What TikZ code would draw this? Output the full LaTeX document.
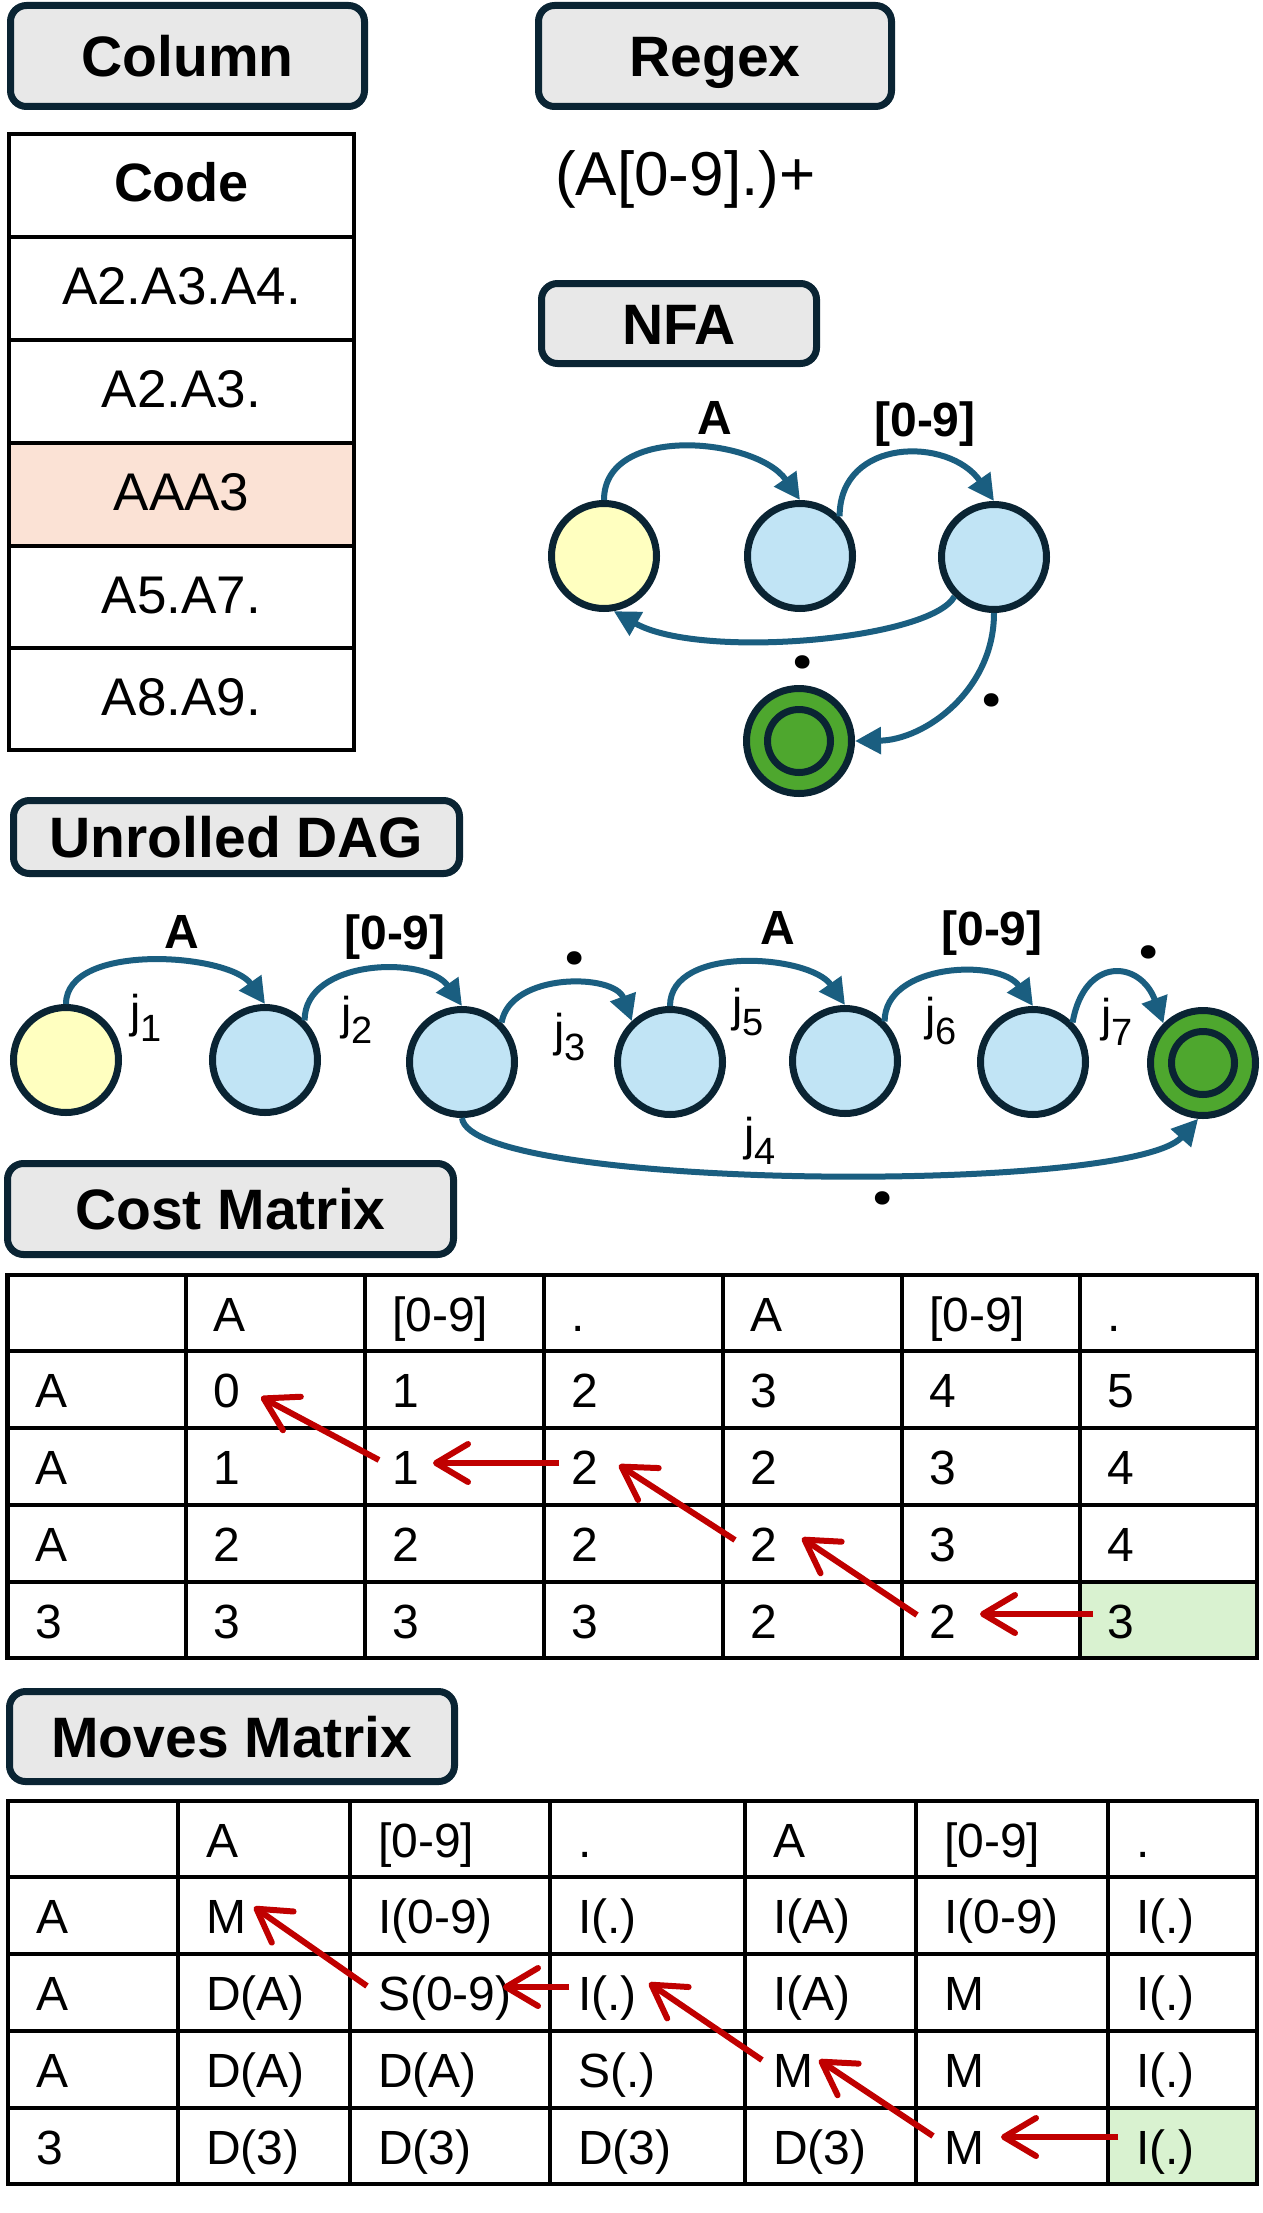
\documentclass[tikz,border=0pt]{standalone}
\usepackage{fontspec}
\setmainfont{Liberation Sans}
\newfontfamily\dotfont{Poppins}
\usetikzlibrary{arrows.meta}
\definecolor{navy}{HTML}{0A2433}
\definecolor{edgec}{HTML}{1A5E80}
\definecolor{lblue}{HTML}{C1E4F5}
\definecolor{yel}{HTML}{FFFFC0}
\definecolor{grn}{HTML}{4EA72E}
\definecolor{boxgray}{HTML}{E8E8E8}
\definecolor{peach}{HTML}{FBE2D5}
\definecolor{lgreen}{HTML}{D9F2D0}
\definecolor{redc}{HTML}{C00000}
\begin{document}
\begin{tikzpicture}[x=1pt,y=1pt,
  titlebox/.style={draw=navy, fill=boxgray, line width=7pt, rounded corners=16pt,
    font=\fontsize{57}{60}\selectfont\bfseries, inner sep=0pt, text height=41pt, text depth=0pt},
  st/.style={circle, draw=navy, line width=7pt, minimum size=105pt, inner sep=0pt},
  startst/.style={st, fill=yel},
  midst/.style={st, fill=lblue},
  finst/.style={st, fill=grn, path picture={\draw[navy, line width=7pt] (path picture bounding box.center) circle (31.5pt);}},
  edge/.style={draw=edgec, line width=6pt, -{Triangle[length=26pt,width=26pt]}},
  elab/.style={font=\fontsize{48}{50}\selectfont\bfseries, inner sep=0pt},
  dotlab/.style={font=\dotfont\fontsize{72}{72}\selectfont\bfseries, inner sep=0pt},
  jlab/.style={font=\fontsize{46}{48}\selectfont, inner sep=0pt, anchor=base west},
  cell/.style={font=\fontsize{48}{50}\selectfont, inner sep=0pt, anchor=base west},
  codecell/.style={font=\fontsize{53}{55}\selectfont, inner sep=0pt, anchor=base},
  redarr/.style={draw=redc, line width=6pt, -{Straight Barb[length=32pt,width=38pt,round]}},
  grid/.style={line width=4.5pt, black, line cap=rect}
]
\useasboundingbox (0,0) rectangle (1263,-2213);
\fill[white] (0,0) rectangle (1263,-2213);

% ---------- title boxes ----------
\node[titlebox, minimum width=354pt, minimum height=101pt] (tcol) at (187.5,-56) {Column};
\node[titlebox, minimum width=353pt, minimum height=101pt] (treg) at (715,-56) {Regex};
\node[titlebox, minimum width=275pt, minimum height=80pt] (tnfa) at (679,-323.5) {NFA};
\node[titlebox, minimum width=446pt, minimum height=73pt] (tdag) at (236.5,-837) {Unrolled DAG};
\node[titlebox, minimum width=446pt, minimum height=91pt] (tcost) at (230.5,-1209) {Cost Matrix};
\node[titlebox, minimum width=445pt, minimum height=90pt] (tmov) at (232,-1736.5) {Moves Matrix};

% ---------- code column table ----------
\fill[peach] (9,-443) rectangle (354,-546);
\foreach \y in {237,340,443,546,648} \draw[grid] (9,-\y) -- (354,-\y);
\draw[grid] (9,-134) rectangle (354,-750);
\node[codecell, font=\fontsize{54}{56}\selectfont\bfseries] (code0) at (181.5,-201.5) {Code};
\node[codecell] (code1) at (181.5,-304.5) {A2.A3.A4.};
\node[codecell] (code2) at (181.5,-407.5) {A2.A3.};
\node[codecell] (code3) at (181.5,-510.5) {AAA3};
\node[codecell] (code4) at (181.5,-613) {A5.A7.};
\node[codecell] (code5) at (181.5,-715) {A8.A9.};

% ---------- regex ----------
\node[anchor=base west, inner sep=0pt, font=\fontsize{62}{64}\selectfont] (rx) at (555,-195) {(A[0-9].)+};

% ---------- NFA ----------
\node[startst] (s) at (604,-556) {};
\node[midst] (a) at (800,-556) {};
\node[midst] (b) at (994,-557) {};
\node[finst] (f) at (799,-741) {};
\draw[edge] (s.north) to[out=90,in=125] (a.north);
\draw[edge] (a.45) to[out=90,in=125,looseness=1.3] (b.north);
\draw[edge] (b.225) .. controls (930,-640) and (700,-660) .. (s.280);
\draw[edge] (b.south) .. controls (994,-690) and (925,-740) .. (f.east);
\node[elab] (la) at (715,-418) {A};
\node[elab] (lb) at (925,-424) {[0-9]};
\node[dotlab] (lc) at (803,-662) {.};
\node[dotlab] (ld) at (992,-700) {.};

% ---------- Unrolled DAG ----------
\node[startst] (n0) at (66,-1060) {};
\node[midst] (n1) at (265,-1060) {};
\node[midst] (n2) at (462,-1062) {};
\node[midst] (n3) at (670,-1062) {};
\node[midst] (n4) at (845,-1061) {};
\node[midst] (n5) at (1033,-1062) {};
\node[finst] (fin) at (1203,-1063) {};
\draw[edge] (n0.north) to[out=90,in=125,looseness=0.8] (n1.north);
\draw[edge] (n1.45) to[out=90,in=125] (n2.north);
\draw[edge] (n2.45) to[out=80,in=110] (n3.133);
\draw[edge] (n3.north) to[out=90,in=125,looseness=0.9] (n4.north);
\draw[edge] (n4.45) to[out=90,in=125] (n5.north);
\draw[edge] (n5.45) to[out=80,in=110,looseness=1.9] (fin.135);
\draw[edge] (n2.south) .. controls (470,-1190) and (1130,-1195) .. (fin.265);
\node[elab] (d1) at (182,-932) {A};
\node[elab] (d2) at (395,-937) {[0-9]};
\node[dotlab] (d3) at (575,-958) {.};
\node[elab] (d5) at (778,-928) {A};
\node[elab] (d6) at (992,-933) {[0-9]};
\node[dotlab] (d7) at (1149,-952) {.};
\node[dotlab] (d4) at (883,-1198) {.};
\node[jlab] (j1) at (130,-1027) {j\raisebox{-14pt}{\fontsize{38}{40}\selectfont 1}};
\node[jlab] (j2) at (341,-1029) {j\raisebox{-14pt}{\fontsize{38}{40}\selectfont 2}};
\node[jlab] (j3) at (554,-1046) {j\raisebox{-14pt}{\fontsize{38}{40}\selectfont 3}};
\node[jlab] (j5) at (732,-1021) {j\raisebox{-14pt}{\fontsize{38}{40}\selectfont 5}};
\node[jlab] (j6) at (925,-1030) {j\raisebox{-14pt}{\fontsize{38}{40}\selectfont 6}};
\node[jlab] (j7) at (1101,-1031) {j\raisebox{-14pt}{\fontsize{38}{40}\selectfont 7}};
\node[jlab] (j4) at (744,-1150) {j\raisebox{-14pt}{\fontsize{38}{40}\selectfont 4}};

% ---------- Cost matrix ----------
\fill[lgreen] (1080,-1582) rectangle (1257,-1658);
\foreach \x in {186,365,544,723,902,1080} \draw[grid] (\x,-1275) -- (\x,-1658);
\foreach \y in {1351,1428,1505,1582} \draw[grid] (7.5,-\y) -- (1257,-\y);
\draw[grid] (7.5,-1275) rectangle (1257,-1658);
\foreach \row [count=\r from 0] in {
  {{},{A},{[0-9]},{.},{A},{[0-9]},{.}},
  {{A},{0},{1},{2},{3},{4},{5}},
  {{A},{1},{1},{2},{2},{3},{4}},
  {{A},{2},{2},{2},{2},{3},{4}},
  {{3},{3},{3},{3},{2},{2},{3}}}{
  \pgfmathsetmacro\yy{{1331,1407.5,1484.5,1561.5,1638}[\r]}
  \foreach \t [count=\c from 0] in \row {
    \pgfmathsetmacro\xx{{35,213,392,571,750,929,1107}[\c]}
    \node[cell] (k-\r-\c) at (\xx,-\yy) {\t};
  }
}
\draw[redarr] ([shift={(-13,24.5)}]k-2-2.base west) -- ([shift={(48,10.5)}]k-1-1.base west);
\draw[redarr] ([shift={(-12,21.5)}]k-2-3.base west) -- ([shift={(41,21.5)}]k-2-2.base west);
\draw[redarr] ([shift={(-15,21.5)}]k-3-4.base west) -- ([shift={(48,19.5)}]k-2-3.base west);
\draw[redarr] ([shift={(-12,23)}]k-4-5.base west) -- ([shift={(52,23.5)}]k-3-4.base west);
\draw[redarr] ([shift={(-14,24)}]k-4-6.base west) -- ([shift={(51,24)}]k-4-5.base west);

% ---------- Moves matrix ----------
\fill[lgreen] (1108,-2108) rectangle (1257,-2184);
\foreach \x in {178,350,550,745,916,1108} \draw[grid] (\x,-1801) -- (\x,-2184);
\foreach \y in {1877,1954,2031,2108} \draw[grid] (8,-\y) -- (1257,-\y);
\draw[grid] (8,-1801) rectangle (1257,-2184);
\foreach \row [count=\r from 0] in {
  {{},{A},{[0-9]},{.},{A},{[0-9]},{.}},
  {{A},{M},{I(0-9)},{I(.)},{I(A)},{I(0-9)},{I(.)}},
  {{A},{D(A)},{S(0-9)},{I(.)},{I(A)},{M},{I(.)}},
  {{A},{D(A)},{D(A)},{S(.)},{M},{M},{I(.)}},
  {{3},{D(3)},{D(3)},{D(3)},{D(3)},{M},{I(.)}}}{
  \pgfmathsetmacro\yy{{1857,1933.5,2010.5,2087.5,2164}[\r]}
  \foreach \t [count=\c from 0] in \row {
    \pgfmathsetmacro\xx{{36,206,378,578,773,944,1136}[\c]}
    \node[cell] (m-\r-\c) at (\xx,-\yy) {\t};
  }
}
\draw[redarr] ([shift={(-11,24.5)}]m-2-2.base west) -- ([shift={(48,26.5)}]m-1-1.base west);
\draw[redarr] ([shift={(-9,23.5)}]m-2-3.base west) -- ([shift={(125,23.5)}]m-2-2.base west);
\draw[redarr] ([shift={(-11,27.5)}]m-3-4.base west) -- ([shift={(71,27.5)}]m-2-3.base west);
\draw[redarr] ([shift={(-11,28)}]m-4-5.base west) -- ([shift={(46,27.5)}]m-3-4.base west);
\draw[redarr] ([shift={(-18,27)}]m-4-6.base west) -- ([shift={(57,27)}]m-4-5.base west);
\end{tikzpicture}
\end{document}
